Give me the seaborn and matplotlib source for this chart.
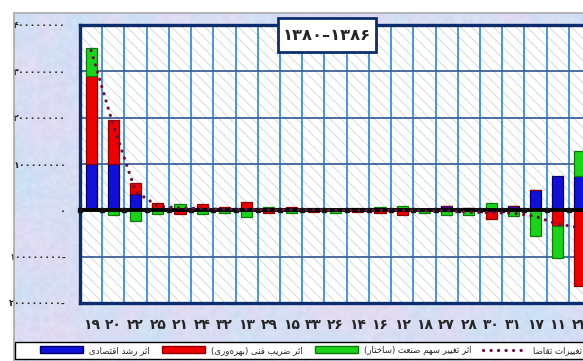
import numpy as np
import matplotlib
matplotlib.use("Agg")
import matplotlib.pyplot as plt
from matplotlib.patches import Rectangle, Patch
from matplotlib.lines import Line2D
import seaborn as sns

# ---- data (values in rials) -------------------------------------------------
sectors = [19, 20, 22, 25, 21, 24, 32, 13, 29, 15, 33, 26, 14, 16, 12, 18,
           27, 28, 30, 31, 17, 11, 23]
# contributions, in millions
growth = [101, 101, 35, 0, 0, 0, 0, 0, 0, 0, 0, 0, 0, 0, 0, 0,
          10, 4, 0, 9, 44, 74, 74]
efficiency = [190, 93, 24, 15, -7, 13, 7, 17, -6, 7, -3, 2, -3, -6, -10, 2,
              0, 0, -19, 0, 0, -34, -163]
structure = [60, -10, -23, -8, 13, -7, -5, -14, 7, -5, 6, -5, 5, 7, 10, -5,
             -10, -10, 15, -13, -55, -69, 54]
demand = [345, 183, 41, 9, 5, 4, 2, 2, 1, 1, 1, 0, 0, 0, 0, -1,
          -1, -4, -5, -6, -13, -30, -37]
y_ticks = [-200000000, -100000000, 0, 100000000, 200000000, 300000000, 400000000]
title_text = "۱۳۸۰–۱۳۸۶"
series_names = ["اثر رشد اقتصادی", "اثر ضریب فنی (بهره‌وری)",
                "اثر تغییر سهم صنعت (ساختار)", "تغییرات تقاضا"]
bar_colors = ["#1010D8", "#EE0000", "#1AD41A"]
bar_edges = ["#00006A", "#8A0000", "#0B7A0B"]
line_color = "#6A1040"

# ---- helpers ----------------------------------------------------------------
FA_DIGITS = str.maketrans("0123456789", "۰۱۲۳۴۵۶۷۸۹")

# isolated, final, initial, medial presentation forms
FORMS = {
    "ا": ("\uFE8D", "\uFE8E", None, None),
    "ب": ("\uFE8F", "\uFE90", "\uFE91", "\uFE92"),
    "ت": ("\uFE95", "\uFE96", "\uFE97", "\uFE98"),
    "ث": ("\uFE99", "\uFE9A", "\uFE9B", "\uFE9C"),
    "خ": ("\uFEA5", "\uFEA6", "\uFEA7", "\uFEA8"),
    "د": ("\uFEA9", "\uFEAA", None, None),
    "ر": ("\uFEAD", "\uFEAE", None, None),
    "س": ("\uFEB1", "\uFEB2", "\uFEB3", "\uFEB4"),
    "ش": ("\uFEB5", "\uFEB6", "\uFEB7", "\uFEB8"),
    "ص": ("\uFEB9", "\uFEBA", "\uFEBB", "\uFEBC"),
    "ض": ("\uFEBD", "\uFEBE", "\uFEBF", "\uFEC0"),
    "ع": ("\uFEC9", "\uFECA", "\uFECB", "\uFECC"),
    "غ": ("\uFECD", "\uFECE", "\uFECF", "\uFED0"),
    "ف": ("\uFED1", "\uFED2", "\uFED3", "\uFED4"),
    "ق": ("\uFED5", "\uFED6", "\uFED7", "\uFED8"),
    "م": ("\uFEE1", "\uFEE2", "\uFEE3", "\uFEE4"),
    "ن": ("\uFEE5", "\uFEE6", "\uFEE7", "\uFEE8"),
    "ه": ("\uFEE9", "\uFEEA", "\uFEEB", "\uFEEC"),
    "و": ("\uFEED", "\uFEEE", None, None),
    "ی": ("\uFEEF", "\uFEF0", "\uFEF3", "\uFEF4"),
}


def rtl(text):
    """Join Persian letters and lay the string out right to left."""
    chars = list(text)
    out = []
    for i, c in enumerate(chars):
        if c not in FORMS:
            out.append(c)
            continue
        prev = chars[i - 1] if i > 0 else None
        nxt = chars[i + 1] if i + 1 < len(chars) else None
        iso, fin, ini, med = FORMS[c]
        jp = prev in FORMS and FORMS[prev][2] is not None
        jn = nxt in FORMS and ini is not None
        if jp and jn:
            out.append(med)
        elif jp:
            out.append(fin)
        elif jn:
            out.append(ini)
        else:
            out.append(iso)
    vis = "".join(out).replace("\u200c", "")[::-1]
    return vis.translate(str.maketrans("()", ")("))


def fa_number(v):
    n = int(round(v))
    s = str(abs(n)).translate(FA_DIGITS)
    return s + "-" if n < 0 else s


# ---- figure -----------------------------------------------------------------
sns.set_style("white")
plt.rcParams["font.family"] = ["DejaVu Sans"]
plt.rcParams["hatch.linewidth"] = 0.7

W, H = 583, 361
fig = plt.figure(figsize=(W / 100, H / 100), dpi=100)
fig.patch.set_facecolor("white")

# textured panel behind the chart
ax_bg = fig.add_axes([14 / W, 0, 1 - 14 / W, 1 - 13 / H], zorder=-10)
ax_bg.axis("off")
rng = np.random.default_rng(11)
t = rng.random((20, 32))
pink = np.array([0.90, 0.83, 0.94])
cyan = np.array([0.76, 0.87, 0.96])
tex = pink[None, None, :] * t[..., None] + cyan[None, None, :] * (1 - t[..., None])
ax_bg.imshow(tex, aspect="auto", extent=[0, 1, 0, 1], interpolation="bicubic")
grain = rng.random((110, 175))
ax_bg.imshow(np.dstack([np.ones_like(grain)] * 3 + [grain * 0.25]), aspect="auto",
             extent=[0, 1, 0, 1], interpolation="bilinear")
ax_bg.set_xlim(0, 1)
ax_bg.set_ylim(0, 1)
fig.add_artist(Line2D([14 / W, 14 / W], [0, 1 - 13 / H], color="#A9A9A9", lw=1.2))
fig.add_artist(Line2D([14 / W, 1], [1 - 13 / H, 1 - 13 / H], color="#A9A9A9", lw=1.2))

# main chart
n = len(sectors)
step = 22.22
ax = fig.add_axes([80 / W, (H - 303) / H, n * step / W, 278 / H], zorder=1)
ax.set_facecolor("white")
ax.add_patch(Rectangle((0, 0), 1, 1, transform=ax.transAxes, facecolor="white",
                       edgecolor="#D8D8D8", hatch="\\\\\\", lw=0, zorder=0))

labels = [str(s).translate(FA_DIGITS) for s in sectors]
vals = np.array([growth, efficiency, structure], dtype=float) * 1e6
pos_base = np.zeros(n)
neg_base = np.zeros(n)
for k in range(3):
    v = vals[k]
    bottom = np.where(v >= 0, pos_base, neg_base)
    sns.barplot(x=labels, y=v, order=labels, color=bar_colors[k], saturation=1,
                width=0.5, errorbar=None, bottom=bottom, edgecolor=bar_edges[k],
                linewidth=0.9, zorder=3, ax=ax)
    pos_base += np.clip(v, 0, None)
    neg_base += np.clip(v, None, 0)

xs = np.arange(n)
ax.set_xlim(-0.5, n - 0.5)
ax.set_ylim(y_ticks[0], y_ticks[-1])

# grid
for b in np.arange(n) + 0.5:
    ax.axvline(b, color="#3A8EDB", lw=1.3, zorder=1)
for yv in y_ticks[1:-1]:
    if yv != 0:
        ax.axhline(yv, color="#3F6397", lw=1.3, zorder=1)
ax.axhline(0, color="black", lw=2.8, zorder=4)
ax.plot(np.arange(n + 1) - 0.5, np.zeros(n + 1), "s", ms=3.3, color="#111111",
        zorder=4.5, clip_on=False)

# demand change line
ax.plot(xs, np.array(demand, dtype=float) * 1e6, color=line_color, lw=2.3,
        linestyle=(0, (0.05, 2.3)), dash_capstyle="round", zorder=6)

for side in ["left", "top", "bottom"]:
    ax.spines[side].set_visible(True)
    ax.spines[side].set_color("#0B2D6E")
    ax.spines[side].set_linewidth(2.4)
ax.spines["right"].set_visible(False)

ax.set_yticks(y_ticks)
ax.set_yticklabels([fa_number(v) for v in y_ticks], fontsize=6.8, fontweight="bold")
ax.set_xticks(xs)
ax.set_xticklabels(labels, fontsize=10, fontweight="bold")
ax.tick_params(axis="y", length=0, pad=10)
ax.tick_params(axis="x", length=0, pad=11)
ax.set_xlabel("")
ax.set_ylabel("")

# title box
fig.add_artist(Rectangle((278 / W, 1 - 52 / H), 98 / W, 34 / H,
                         transform=fig.transFigure, facecolor="white",
                         edgecolor="#0B2D6E", lw=2, zorder=9))
fig.text(327 / W, 1 - 35.5 / H, title_text, ha="center", va="center", fontsize=11.8,
         fontweight="bold", zorder=10)

# legend strip
fig.add_artist(Rectangle((15 / W, 2 / H), 1, 17 / H, transform=fig.transFigure,
                         facecolor="white", edgecolor="black", lw=1, zorder=5))
handles = [Patch(facecolor=bar_colors[k], edgecolor=bar_edges[k], lw=1)
           for k in range(3)]
handles.append(Line2D([], [], color=line_color, lw=2.3, linestyle=(0, (0.05, 2.3)),
                      dash_capstyle="round"))
leg = fig.legend(handles, [rtl(s) for s in series_names], ncol=4, frameon=False,
                 loc="center left", bbox_to_anchor=(36 / W, 1 - 350.5 / H),
                 fontsize=6.2, borderpad=0, handlelength=5.0, handleheight=0.9,
                 handletextpad=0.7, columnspacing=1.4)
leg.set_zorder(6)

fig.savefig("out.png", dpi=100)
